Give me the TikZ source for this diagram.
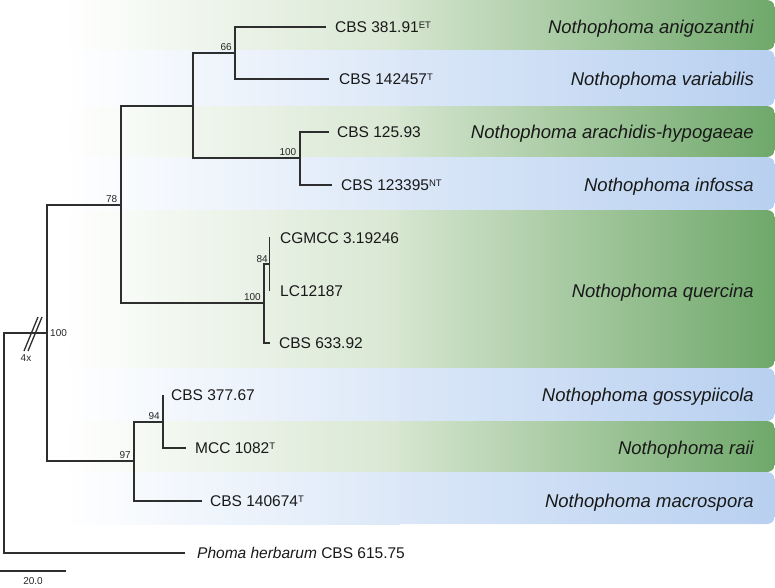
\documentclass[tikz,border=0pt]{standalone}
\usepackage{fontspec}
\setmainfont{Liberation Sans}
\usetikzlibrary{calc}
\definecolor{gmid}{HTML}{D8E7D2}
\definecolor{gdark}{HTML}{6FA86A}
\definecolor{bmid}{HTML}{DCE8F8}
\definecolor{bdark}{HTML}{B8D0F0}
\definecolor{treeline}{HTML}{2E2E2E}
\newcommand{\tsup}[1]{\raisebox{4.3pt}{\fontsize{9.5}{9.5}\selectfont #1}}
\newcommand{\band}[4]{%
  \shade[left color=#3, right color=#4, rounded corners=8pt] (390,#1) rectangle (775,#2);
  \shade[left color=white, right color=#3] (63,#1) rectangle (400,#2);}
\begin{document}
\begin{tikzpicture}[x=1pt,y=-1pt,
  branch/.style={line width=1.6pt, draw=treeline},
  leaf/.style={font=\fontsize{15.5}{18}\selectfont, inner sep=0pt, anchor=base west, text=black!90},
  spec/.style={font=\fontsize{18.5}{22}\selectfont\itshape, inner sep=0pt, anchor=base east, text=black!90},
  boot/.style={font=\fontsize{10}{12}\selectfont, inner sep=0pt, anchor=base east, text=black!85}]
\useasboundingbox (0,0) rectangle (775,587);
% bands
\band{0}{50}{gmid}{gdark}
\band{50}{106}{bmid}{bdark}
\band{106}{157}{gmid}{gdark}
\band{157}{210}{bmid}{bdark}
\band{210}{368}{gmid}{gdark}
\band{368}{421}{bmid}{bdark}
\band{421}{472}{gmid}{gdark}
\band{472}{524}{bmid}{bdark}
% species labels
\node[spec] (sp1) at (754,33.6) {Nothophoma anigozanthi};
\node[spec] (sp2) at (754,85.6) {Nothophoma variabilis};
\node[spec] (sp3) at (754,138.6) {Nothophoma arachidis-hypogaeae};
\node[spec] (sp4) at (754,191.6) {Nothophoma infossa};
\node[spec] (sp5) at (754,297.6) {Nothophoma quercina};
\node[spec] (sp6) at (754,401.6) {Nothophoma gossypiicola};
\node[spec] (sp7) at (754,454.6) {Nothophoma raii};
\node[spec] (sp8) at (754,507.6) {Nothophoma macrospora};
% internal nodes
\coordinate (r) at (4,553);
\coordinate (nA) at (47,333);
\coordinate (n78) at (121,205);
\coordinate (nUp) at (193,106);
\coordinate (n66) at (235,53);
\coordinate (n100a) at (300,158);
\coordinate (nQ) at (264,303);
\coordinate (n84) at (269.5,264);
\coordinate (n97) at (134,461);
\coordinate (n94) at (163,422);
% leaf ends
\coordinate (l1) at (326,27);
\coordinate (l2) at (329,79);
\coordinate (l3) at (329,132);
\coordinate (l4) at (332,185);
\coordinate (l5) at (269.5,237);
\coordinate (l6) at (269.5,291);
\coordinate (l7) at (270,343);
\coordinate (l8) at (163,395);
\coordinate (l9) at (186,448);
\coordinate (l10) at (202,501);
\coordinate (l11) at (185,553);
% leaf labels
\node[leaf] (t1) at (335,32.5) {CBS 381.91\tsup{ET}};
\node[leaf] (t2) at (339,84.5) {CBS 142457\tsup{T}};
\node[leaf] (t3) at (337,137.5) {CBS 125.93};
\node[leaf] (t4) at (341,190.5) {CBS 123395\tsup{NT}};
\node[leaf] (t5) at (280,243.5) {CGMCC 3.19246};
\node[leaf] (t6) at (280,296.5) {LC12187};
\node[leaf] (t7) at (279,348.5) {CBS 633.92};
\node[leaf] (t8) at (171,400.5) {CBS 377.67};
\node[leaf] (t9) at (195,453.5) {MCC 1082\tsup{T}};
\node[leaf] (t10) at (210,506.5) {CBS 140674\tsup{T}};
\node[leaf] (t11) at (197,558.5) {\textit{Phoma herbarum} CBS 615.75};
% tree
\draw[branch] (nA) -| (r) -- (l11);
\draw[branch] (n78) -| (nA) |- (n97);
\draw[branch] (nUp) -| (n78) |- (nQ);
\draw[branch] (n66) -| (nUp) |- (n100a);
\draw[branch] (l1) -| (n66) |- (l2);
\draw[branch] (l3) -| (n100a) |- (l4);
\draw[branch] (n84) -| (nQ) |- (l7);
\draw[branch] (l5) -- (l6);
\draw[branch] (n94) -| (n97) |- (l10);
\draw[branch] (l8) -| (n94) |- (l9);
% break marks
\coordinate (bk1a) at (24,351); \coordinate (bk1b) at (38,317);
\coordinate (bk2a) at (28,351); \coordinate (bk2b) at (42,317);
\draw[line width=1.3pt, draw=treeline] (bk1a) -- (bk1b);
\draw[line width=1.3pt, draw=treeline] (bk2a) -- (bk2b);
\node[boot, anchor=base] (four) at (26,361) {4x};
% support values
\node[boot, anchor=west] (s100r) at ($(nA)+(3,0)$) {100};
\node[boot] (s78) at ($(n78)+(-3.5,-2.5)$) {78};
\node[boot] (s66) at ($(n66)+(-3,-2.5)$) {66};
\node[boot] (s100a) at ($(n100a)+(-3.5,-2.5)$) {100};
\node[boot] (s84) at ($(n84)+(-1.5,-2)$) {84};
\node[boot] (s100q) at ($(nQ)+(-3,-2.5)$) {100};
\node[boot] (s97) at ($(n97)+(-3,-2.5)$) {97};
\node[boot] (s94) at ($(n94)+(-3,-2.5)$) {94};
% scale bar
\coordinate (sb1) at (0,571); \coordinate (sb2) at (66,571);
\draw[line width=1.3pt, draw=treeline] (sb1) -- (sb2);
\node[boot, anchor=base] (sbl) at (33,584) {20.0};
\end{tikzpicture}
\end{document}
